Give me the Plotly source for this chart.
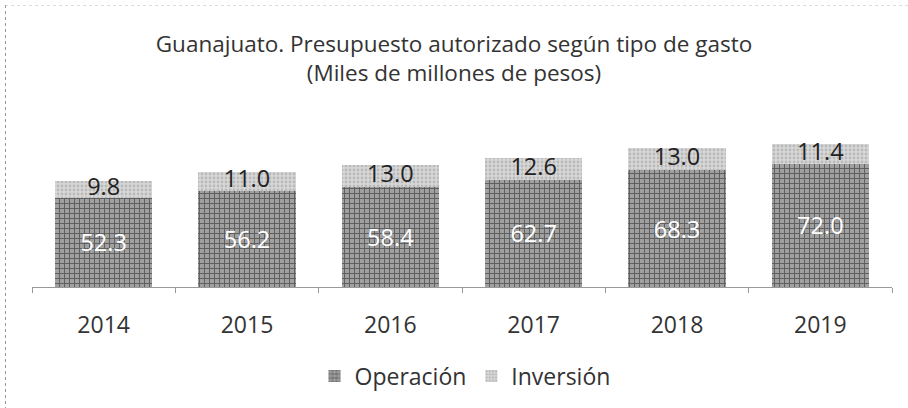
import plotly.graph_objects as go

years = ["2014", "2015", "2016", "2017", "2018", "2019"]
operacion = [52.3, 56.2, 58.4, 62.7, 68.3, 72.0]
inversion = [9.8, 11.0, 13.0, 12.6, 13.0, 11.4]

FONT = "Open Sans"
FS = 23

fig = go.Figure()
fig.add_trace(go.Bar(
    x=years, y=operacion, name="Operación",
    marker=dict(color="#8a8a8a", line=dict(width=0),
                pattern=dict(shape="+", fgcolor="#5e5e5e", bgcolor="#a0a0a0", size=5, solidity=0.35, fillmode="replace")),
    text=[f"{v:.1f}" for v in operacion], textposition="inside", insidetextanchor="middle",
    textfont=dict(color="white", size=23.5, family=FONT),
))
fig.add_trace(go.Bar(
    x=years, y=inversion, name="Inversión",
    marker=dict(color="#cfcfcf", line=dict(width=0),
                pattern=dict(shape=".", fgcolor="#bababa", bgcolor="#d8d8d8", size=4, solidity=0.4, fillmode="replace")),
))
fig.add_trace(go.Scatter(
    x=years, y=[o + i / 2 for o, i in zip(operacion, inversion)],
    mode="text", text=[f"{v:.1f}" for v in inversion],
    textfont=dict(color="#222", size=23.5, family=FONT),
    showlegend=False, hoverinfo="skip", cliponaxis=False,
))

W, H = 908, 408
ml, mr, mt, mb = 32, 16, 116, 121
pw, ph = W - ml - mr, H - mt - mb

def px(x):
    return (x - ml) / pw

def py(y):
    return (H - mb - y) / ph

fig.update_layout(
    width=W, height=H, barmode="stack", bargap=0.32,
    margin=dict(l=ml, r=mr, t=mt, b=mb, autoexpand=False),
    paper_bgcolor="white", plot_bgcolor="white",
    font=dict(family=FONT, color="#333"),
    title=dict(text="Guanajuato. Presupuesto autorizado según tipo de gasto<br>(Miles de millones de pesos)",
               x=0.5, xanchor="center", y=1 - 52 / H, yanchor="middle", yref="container",
               font=dict(size=22.5, color="#333", family=FONT)),
    xaxis=dict(showline=True, linecolor="#999", linewidth=1, ticks="outside", tickson="boundaries",
               ticklen=5, tickcolor="#999", tickfont=dict(size=FS, color="#333", family=FONT),
               ticklabelstandoff=17, showgrid=False),
    yaxis=dict(range=[0, 100], visible=False, showgrid=False),
    legend=dict(orientation="h", x=px(465), xanchor="center", y=py(376), yanchor="middle", traceorder="normal",
                font=dict(size=FS, color="#333", family=FONT)),
    shapes=[
        dict(type="line", xref="paper", yref="paper", x0=px(5), x1=px(908), y0=py(5.5), y1=py(5.5),
             line=dict(color="#ddd", width=1, dash="dot"), layer="below"),
        dict(type="line", xref="paper", yref="paper", x0=px(5.5), x1=px(5.5), y0=py(5), y1=py(408),
             line=dict(color="#999", width=1, dash="dot"), layer="below"),
    ],
)

fig.write_html("out.html", config={"displayModeBar": False},
               post_script="document.body.style.margin='0';document.body.style.overflow='hidden';")
